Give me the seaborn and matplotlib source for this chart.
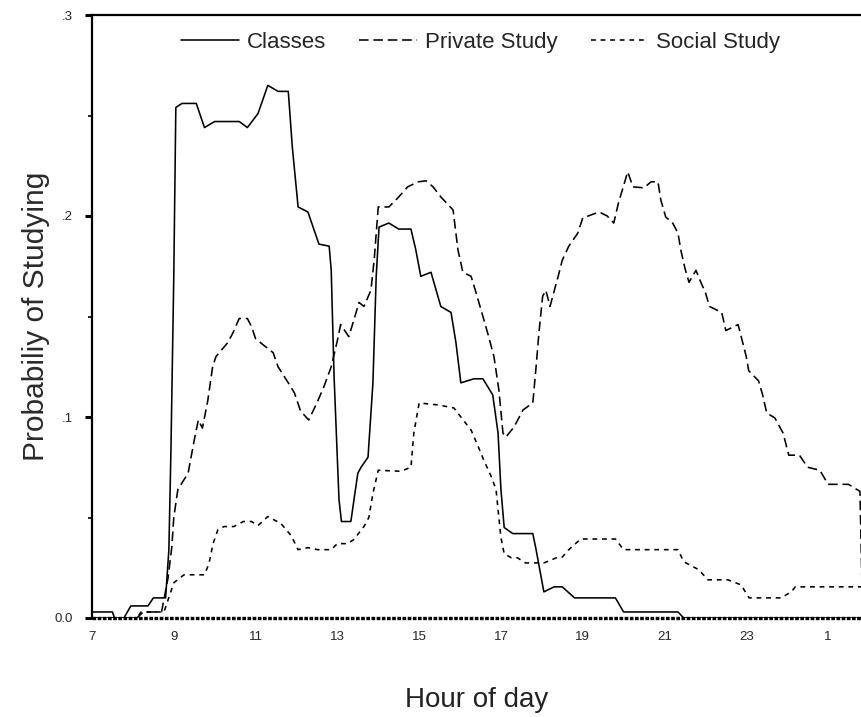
import numpy as np
import pandas as pd
import matplotlib
matplotlib.use("Agg")
import matplotlib.pyplot as plt
import seaborn as sns

# ---------------- data ----------------
hours_classes = [7.0, 7.5, 7.55, 7.78, 7.95, 8.37, 8.5, 8.8, 8.88, 8.93, 9.0, 9.05, 9.2, 9.55,
                 9.75, 10.0, 10.6, 10.8, 11.06, 11.18, 11.3, 11.55, 11.8, 11.9, 12.04, 12.28,
                 12.55, 12.8, 12.85, 12.92, 13.04, 13.1, 13.33, 13.5, 13.58, 13.75, 13.87, 13.95,
                 14.02, 14.26, 14.5, 14.8, 14.92, 15.04, 15.29, 15.53, 15.78, 15.9, 16.02, 16.34,
                 16.56, 16.8, 16.93, 17.0, 17.08, 17.29, 17.78, 17.86, 18.05, 18.3, 18.5, 18.8,
                 19.8, 20.0, 21.33, 21.47, 25.83]
classes = [0.003, 0.003, 0.0, 0.0, 0.006, 0.006, 0.010, 0.010, 0.034, 0.083, 0.17, 0.254, 0.256, 0.256,
           0.244, 0.247, 0.247, 0.244, 0.251, 0.258, 0.265, 0.262, 0.262, 0.234, 0.2045, 0.202,
           0.186, 0.185, 0.173, 0.12, 0.059, 0.048, 0.048, 0.072, 0.075, 0.08, 0.117, 0.17,
           0.1945, 0.1965, 0.1935, 0.1935, 0.183, 0.17, 0.172, 0.155, 0.152, 0.137, 0.117, 0.119,
           0.119, 0.111, 0.092, 0.064, 0.045, 0.042, 0.042, 0.034, 0.013, 0.0155, 0.0155, 0.010,
           0.010, 0.003, 0.003, 0.0, 0.0]

hours_private = [7.0, 8.1, 8.25, 8.7, 8.86, 8.95, 9.0, 9.1, 9.35, 9.5, 9.6, 9.7, 9.83, 9.95,
                 10.03, 10.32, 10.45, 10.6, 10.8, 10.9, 11.0, 11.18, 11.43, 11.55, 11.8, 11.95,
                 12.1, 12.3, 12.5, 12.67, 12.85, 13.0, 13.08, 13.28, 13.4, 13.53, 13.65, 13.82,
                 13.9, 14.0, 14.26, 14.48, 14.72, 14.97, 15.17, 15.34, 15.53, 15.83, 15.95, 16.07,
                 16.27, 16.39, 16.56, 16.7, 16.83, 16.95, 17.05, 17.12, 17.32, 17.54, 17.78, 17.86,
                 17.93, 18.02, 18.1, 18.2, 18.4, 18.5, 18.66, 18.88, 19.0, 19.4, 19.6, 19.76,
                 19.88, 20.0, 20.1, 20.23, 20.5, 20.67, 20.84, 20.91, 21.03, 21.2, 21.33, 21.4,
                 21.5, 21.6, 21.77, 21.9, 22.0, 22.1, 22.4, 22.5, 22.8, 22.9, 23.0, 23.06, 23.3,
                 23.4, 23.5, 23.7, 23.9, 24.04, 24.3, 24.5, 24.8, 25.0, 25.5, 25.78, 25.83]
private = [0.0, 0.0, 0.003, 0.003, 0.02, 0.035, 0.05, 0.064, 0.072, 0.0885, 0.0985, 0.0945, 0.108, 0.125,
           0.13, 0.137, 0.142, 0.149, 0.149, 0.145, 0.139, 0.136, 0.132, 0.125, 0.117, 0.112,
           0.103, 0.0985, 0.107, 0.115, 0.125, 0.138, 0.146, 0.14, 0.148, 0.157, 0.155, 0.163,
           0.178, 0.2045, 0.2045, 0.209, 0.2145, 0.217, 0.2175, 0.2145, 0.2095, 0.203, 0.183, 0.172,
           0.17, 0.162, 0.15, 0.14, 0.13, 0.1135, 0.092, 0.09, 0.095, 0.1035, 0.107, 0.125,
           0.142, 0.16, 0.163, 0.155, 0.17, 0.178, 0.185, 0.1915, 0.199, 0.202, 0.2, 0.1965,
           0.207, 0.215, 0.222, 0.2145, 0.214, 0.217, 0.217, 0.208, 0.1995, 0.1965, 0.1915, 0.183,
           0.174, 0.167, 0.173, 0.1665, 0.162, 0.155, 0.152, 0.143, 0.146, 0.138, 0.13, 0.123, 0.118,
           0.111, 0.102, 0.0995, 0.092, 0.081, 0.081, 0.075, 0.0735, 0.0665, 0.0665, 0.063, 0.015]

hours_social = [7.0, 8.1, 8.2, 8.76, 8.86, 9.0, 9.25, 9.75, 9.86, 9.96, 10.08, 10.23, 10.47, 10.7,
                10.9, 11.06, 11.3, 11.62, 11.87, 12.04, 12.28, 12.52, 12.85, 13.0, 13.25, 13.4,
                13.65, 13.77, 13.87, 14.0, 14.55, 14.8, 14.87, 15.0, 15.46, 15.85, 16.02, 16.27,
                16.43, 16.58, 16.75, 16.88, 16.95, 17.0, 17.08, 17.25, 17.4, 17.6, 18.05, 18.4,
                18.5, 18.66, 18.95, 19.8, 20.0, 21.33, 21.47, 21.84, 22.06, 22.55, 22.87, 23.07,
                23.85, 24.1, 24.2, 25.83]
social = [0.0, 0.0, 0.003, 0.003, 0.009, 0.0175, 0.0215, 0.0215, 0.027, 0.037, 0.044, 0.0455, 0.0455, 0.048,
          0.048, 0.046, 0.0505, 0.047, 0.041, 0.034, 0.035, 0.034, 0.034, 0.037, 0.037, 0.039,
          0.0455, 0.05, 0.062, 0.0735, 0.073, 0.075, 0.092, 0.107, 0.106, 0.1045, 0.1, 0.0935,
          0.086, 0.0786, 0.071, 0.064, 0.05, 0.04, 0.032, 0.03, 0.03, 0.0274, 0.0274, 0.0303,
          0.0303, 0.034, 0.0393, 0.0393, 0.034, 0.034, 0.028, 0.024, 0.019, 0.019, 0.0165, 0.010,
          0.010, 0.013, 0.0155, 0.0155]

series_names = ["Classes", "Private Study", "Social Study"]
x_ticks = [7, 9, 11, 13, 15, 17, 19, 21, 23, 25]
x_tick_labels = ["7", "9", "11", "13", "15", "17", "19", "21", "23", "1"]
y_ticks = [0.0, 0.1, 0.2, 0.3]
y_tick_labels = ["0.0", ".1", ".2", ".3"]

# ---------------- figure ----------------
sns.set_style("ticks")
plt.rcParams["font.family"] = ["Liberation Sans", "DejaVu Sans"]

W, H = 862, 717
fig = plt.figure(figsize=(W / 100, H / 100), dpi=100)
ax = fig.add_axes([92 / W, (H - 618) / H, (W - 92) / W, (618 - 15) / H])

frames = []
for name, xs, ys in zip(series_names,
                        [hours_classes, hours_private, hours_social],
                        [classes, private, social]):
    frames.append(pd.DataFrame({"hour": xs, "prob": ys, "series": name}))
df = pd.concat(frames, ignore_index=True)

dash_map = {"Classes": "", "Private Study": (6, 3), "Social Study": (3, 3)}
sns.lineplot(data=df, x="hour", y="prob", style="series", dashes=dash_map,
             color="black", linewidth=1.15, estimator=None, sort=False, ax=ax,
             legend=True)

ax.set_xlim(7, 25.83)
ax.set_ylim(0, 0.3)

ax.set_xticks(x_ticks)
ax.set_xticklabels(x_tick_labels, fontsize=9.5)
ax.set_yticks(y_ticks)
ax.set_yticklabels(y_tick_labels, fontsize=9.5)
ax.set_yticks([0.05, 0.15, 0.25], minor=True)
ax.tick_params(axis="y", which="major", length=5, width=2.2, pad=9, color="black")
ax.tick_params(axis="y", which="minor", length=3, width=1.2, color="black")
ax.tick_params(axis="x", which="major", length=0, pad=9)

for s in ["top", "left"]:
    ax.spines[s].set_linewidth(1.6)
    ax.spines[s].set_color("black")
ax.spines["right"].set_visible(False)
ax.spines["bottom"].set_visible(False)

# dotted baseline along the x axis
ax.axhline(0, color="black", linewidth=2.4, dashes=(1.1, 0.45), clip_on=False, zorder=5)

ax.set_xlabel("Hour of day", fontsize=20, labelpad=32, color="#222222")
ax.set_ylabel("Probabiliy of Studying", fontsize=21.5, color="#2a2a2a")
ax.yaxis.set_label_coords(-0.055, 0.5)

handles, labels = ax.get_legend_handles_labels()
ax.legend(handles=handles, labels=labels, loc="center", bbox_to_anchor=(0.5045, 0.955),
          ncol=3, frameon=False, fontsize=16, handlelength=2.6, columnspacing=1.5,
          handletextpad=0.35)

fig.savefig("out.png", dpi=100)
